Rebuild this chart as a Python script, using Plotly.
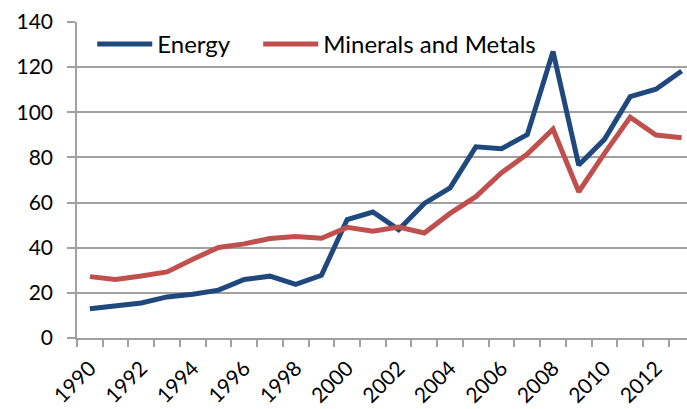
import plotly.graph_objects as go

years = list(range(1990, 2014))
energy = [13.0, 14.1, 15.5, 18.2, 19.4, 21.2, 25.9, 27.4, 23.8, 27.8, 52.5, 55.8,
          48.0, 59.6, 66.5, 84.7, 83.9, 90.1, 126.9, 76.6, 88.0, 106.9, 110.2, 118.3]
minerals = [27.2, 25.9, 27.5, 29.3, 34.9, 40.1, 41.7, 44.1, 45.0, 44.2, 49.0, 47.3,
            49.2, 46.5, 55.2, 62.6, 73.2, 81.5, 92.5, 64.8, 81.8, 97.8, 89.9, 88.7]
tick_years = list(range(1990, 2013, 2))
y_ticks = list(range(0, 141, 20))

FONT = "Lato"
GRID = "#a0a0a0"

fig = go.Figure()
fig.add_trace(go.Scatter(x=years, y=energy, mode="lines", name="Energy",
                         line=dict(color="#1F497D", width=5), legend="legend"))
fig.add_trace(go.Scatter(x=years, y=minerals, mode="lines", name="Minerals and Metals",
                         line=dict(color="#C0504D", width=5), legend="legend2"))

leg_common = dict(orientation="h", y=1.0, xanchor="left", yanchor="top",
                  bgcolor="rgba(0,0,0,0)", font=dict(family=FONT, size=24),
                  itemwidth=55)

fig.update_layout(
    width=687, height=409,
    margin=dict(l=77, r=0, t=22, b=71),
    paper_bgcolor="white", plot_bgcolor="white",
    font=dict(family=FONT, size=21, color="#000000"),
    showlegend=True,
    legend=dict(x=0.025, **leg_common),
    legend2=dict(x=0.297, **leg_common),
)
fig.update_xaxes(
    range=[1989.5, 1989.5 + (687 - 77) / 25.73],
    tickmode="array", tickvals=tick_years, ticktext=[str(y) for y in tick_years],
    tickangle=-45, ticks="", showgrid=False, zeroline=False,
    showline=True, linecolor=GRID, linewidth=1.5,
    minor=dict(ticks="outside", tick0=1989.5, dtick=1, ticklen=7,
               tickcolor=GRID, tickwidth=1.5, showgrid=False),
    tickfont=dict(family=FONT, size=21), ticklabelstandoff=8,
)
fig.update_yaxes(
    range=[0, 140], tickmode="array", tickvals=y_ticks,
    ticks="outside", ticklen=8, tickcolor=GRID, tickwidth=1.5,
    showgrid=True, gridcolor=GRID, gridwidth=1.5, zeroline=False,
    showline=True, linecolor=GRID, linewidth=1.5,
    tickfont=dict(family=FONT, size=21), ticklabelstandoff=10,
)

fig.write_html("out.html")
